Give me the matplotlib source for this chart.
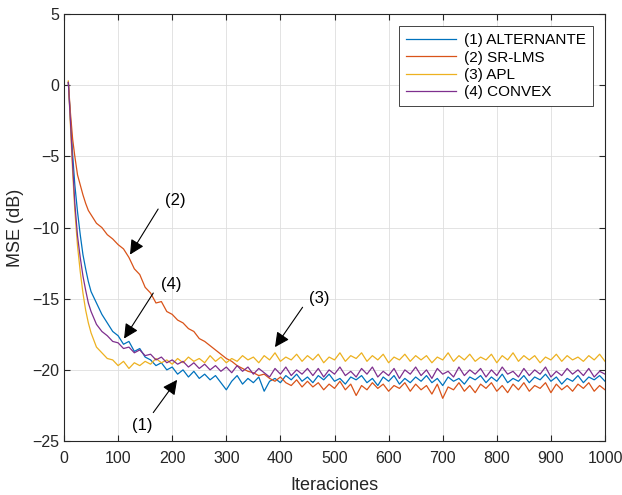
# curvas de aprendizaje MSE (dB) vs iteraciones, cuatro algoritmos
import matplotlib
matplotlib.use("Agg")
import matplotlib.pyplot as plt

plt.rcParams['font.family'] = ['Liberation Sans', 'DejaVu Sans']

iteraciones = [8, 12, 16, 20, 25, 30, 35, 40, 45, 50] + list(range(60, 1001, 10))

alternante = [0.2, -2.4, -4.9, -7.0, -8.9, -10.5, -11.9, -12.9, -13.8, -14.5,
              -15.3, -16.1, -16.7, -17.3, -17.6, -18.2, -18.0, -18.7, -18.5, -19.1,
              -19.3, -19.7, -19.5, -20.0, -19.8, -20.3, -20.0, -20.5, -20.1, -20.6,
              -20.3, -20.7, -20.4, -20.9, -21.4, -20.8, -20.4, -21.0, -20.6, -20.9,
              -20.5, -21.5, -20.8, -20.6, -20.9, -20.4, -20.7, -20.3, -20.8, -20.5,
              -20.9, -20.4, -20.7, -20.3, -20.8, -20.6, -21.0, -20.5, -20.7, -20.4,
              -20.9, -20.6, -21.1, -20.5, -20.8, -20.4, -21.0, -20.6, -20.9, -20.5,
              -20.8, -20.4, -20.9, -20.6, -21.1, -20.5, -20.8, -20.6, -21.0, -20.5,
              -20.7, -20.4, -20.9, -20.5, -20.8, -20.3, -20.9, -20.6, -20.8, -20.4,
              -20.9, -20.5, -20.7, -20.3, -20.8, -20.5, -21.0, -20.6, -20.8, -20.4,
              -20.9, -20.5, -20.7, -20.4, -20.8]

sr_lms = [0.2, -2.0, -3.8, -5.0, -6.3, -7.0, -7.7, -8.3, -8.8, -9.1,
          -9.7, -10.0, -10.5, -10.8, -11.2, -11.5, -12.1, -12.9, -13.3, -14.2,
          -14.6, -15.3, -15.2, -15.9, -16.1, -16.5, -16.7, -17.1, -17.3, -17.8,
          -18.0, -18.3, -18.6, -18.9, -19.2, -19.4, -19.7, -19.9, -20.1, -20.2,
          -20.4, -20.3, -20.6, -20.8, -20.5, -20.9, -21.1, -20.7, -21.2, -20.8,
          -21.2, -20.9, -21.4, -21.0, -21.3, -20.8, -21.4, -21.0, -21.8, -21.1,
          -21.4, -20.9, -21.3, -21.0, -21.5, -21.1, -21.3, -20.9, -21.5, -21.0,
          -21.4, -21.1, -21.7, -21.0, -22.0, -21.2, -21.4, -20.9, -21.5, -21.1,
          -21.6, -21.0, -21.3, -20.9, -21.5, -21.1, -21.6, -21.0, -21.4, -20.9,
          -21.5, -21.1, -21.3, -20.9, -21.6, -21.0, -21.4, -21.1, -21.5, -21.0,
          -21.3, -20.9, -21.5, -21.1, -21.4]

apl = [0.3, -2.9, -6.1, -8.8, -11.3, -13.1, -14.6, -15.8, -16.7, -17.4,
       -18.4, -18.8, -19.2, -19.3, -19.7, -19.4, -19.9, -19.5, -19.7, -19.4,
       -19.6, -19.2, -19.5, -19.3, -19.6, -19.2, -19.5, -19.1, -19.4, -19.2,
       -19.5, -19.0, -19.4, -19.1, -19.5, -19.2, -19.4, -19.0, -19.3, -19.1,
       -19.5, -19.0, -19.3, -18.8, -19.4, -19.1, -19.3, -18.9, -19.4, -19.0,
       -19.3, -18.9, -19.5, -19.1, -19.3, -18.8, -19.4, -19.0, -19.2, -18.8,
       -19.4, -19.0, -19.3, -18.9, -19.5, -19.1, -19.3, -18.9, -19.4, -19.0,
       -19.3, -19.0, -19.5, -19.1, -19.3, -18.8, -19.4, -19.0, -19.3, -18.9,
       -19.4, -19.1, -19.3, -18.9, -19.5, -19.0, -19.3, -18.8, -19.4, -19.0,
       -19.3, -19.0, -19.5, -19.1, -19.3, -18.9, -19.4, -19.0, -19.3, -19.1,
       -19.4, -19.0, -19.3, -18.9, -19.4]

convex = [0.2, -2.6, -5.6, -8.3, -10.6, -12.1, -13.4, -14.4, -15.3, -15.9,
          -16.8, -17.3, -17.6, -18.0, -18.1, -18.5, -18.4, -18.8, -18.6, -19.0,
          -18.9, -19.3, -19.1, -19.5, -19.3, -19.6, -19.4, -19.8, -19.5, -19.9,
          -19.6, -20.0, -19.7, -20.1, -19.8, -20.2, -19.7, -20.1, -19.8, -20.3,
          -19.9, -20.2, -20.5, -19.9, -20.3, -19.8, -20.4, -20.0, -20.3, -19.9,
          -20.4, -19.9, -20.5, -20.0, -20.3, -19.8, -20.4, -20.1, -20.5, -19.9,
          -20.3, -19.8, -20.5, -20.1, -20.4, -19.9, -20.6, -20.0, -20.3, -19.8,
          -20.4, -20.0, -20.6, -19.9, -20.3, -20.1, -20.5, -19.8, -20.4, -20.0,
          -20.3, -19.9, -20.5, -20.0, -20.4, -19.8, -20.3, -20.1, -20.5, -19.9,
          -20.4, -20.0, -20.3, -19.8, -20.5, -20.1, -20.4, -19.9, -20.3, -20.0,
          -20.4, -19.9, -20.5, -20.1, -20.3]

nombres = ["(1) ALTERNANTE", "(2) SR-LMS", "(3) APL", "(4) CONVEX"]
colores = ["#0072BD", "#D95319", "#EDB120", "#7E2F8E"]

# etiquetas de las flechas: texto, punta (iter, dB), cola (iter, dB)
etiquetas = ["(1)", "(2)", "(3)", "(4)"]
puntas = [(209, -20.7), (122, -11.9), (390, -18.4), (111, -17.8)]
textos = [(145, -23.9), (205, -8.1), (472, -15.0), (199, -14.0)]
colas = [(165, -23.0), (174, -8.7), (441, -15.6), (165, -14.6)]

fig = plt.figure(figsize=(6.22, 4.95), dpi=100)
ax = fig.add_axes([0.1029, 0.109, 0.8698, 0.8626])

for serie, nombre, c in zip([alternante, sr_lms, apl, convex], nombres, colores):
    ax.plot(iteraciones, serie, color=c, lw=0.9, label=nombre)

for et, p, t, q in zip(etiquetas, puntas, textos, colas):
    ax.annotate("", xy=p, xytext=q,
                arrowprops=dict(arrowstyle="-|>", color="k", lw=0.8,
                                mutation_scale=22, shrinkA=0, shrinkB=0))
    ax.text(t[0], t[1], et, ha="center", va="center", fontsize=12)

ax.set_xlim(0, 1000)
ax.set_ylim(-25, 5)
ax.set_xticks(range(0, 1001, 100))
ax.set_yticks(range(-25, 6, 5))
ax.grid(True, color="#dedede", lw=0.6)
ax.set_axisbelow(True)
ax.tick_params(direction="in", top=True, right=True, length=4, labelsize=11.5,
               colors="#262626", labelcolor="#262626")
ax.tick_params(axis="x", pad=7)
for s in ax.spines.values():
    s.set_color("#262626")
    s.set_linewidth(0.8)

ax.set_xlabel("Iteraciones", fontsize=13, color="#262626", labelpad=8)
ax.set_ylabel("MSE (dB)", fontsize=13, color="#262626", labelpad=6)

leg = ax.legend(loc="upper right", fontsize=11, handlelength=3.3, fancybox=False,
                framealpha=1, edgecolor="#262626", borderaxespad=0.8,
                labelspacing=0.22, borderpad=0.45, handletextpad=0.5)
leg.get_frame().set_linewidth(0.6)

fig.savefig("out.png", dpi=100)
